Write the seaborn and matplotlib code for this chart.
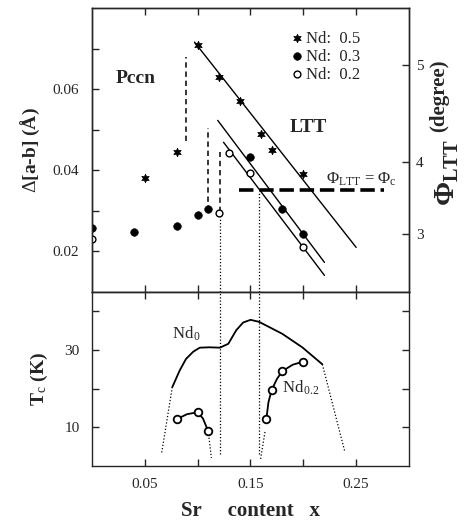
import numpy as np
import pandas as pd
import seaborn as sns
import matplotlib.pyplot as plt

# top panel: splitting |a-b| vs Sr content, three Nd levels
x_nd05 = [0.05, 0.08, 0.10, 0.12, 0.14, 0.16, 0.17, 0.20]
d_nd05 = [0.038, 0.0445, 0.071, 0.063, 0.057, 0.049, 0.045, 0.039]
x_nd03 = [0.0, 0.04, 0.08, 0.10, 0.11, 0.15, 0.18, 0.20]
d_nd03 = [0.0257, 0.0249, 0.0262, 0.0291, 0.0304, 0.0432, 0.0304, 0.0244]
x_nd02 = [0.0, 0.12, 0.13, 0.15, 0.20]
d_nd02 = [0.023, 0.0294, 0.0442, 0.0393, 0.0212]

# straight fits in the LTT phase (end points)
fit_x_05 = [0.097, 0.25]
fit_d_05 = [0.0716, 0.0210]
fit_x_03 = [0.119, 0.22]
fit_d_03 = [0.0523, 0.0173]
fit_x_02 = [0.1245, 0.22]
fit_d_02 = [0.0469, 0.0141]

# Pccn / LTT boundaries
bound_x = [0.0887, 0.110, 0.121]
bound_top = [0.0679, 0.0504, 0.0444]
bound_bot = [0.0472, 0.0299, 0.0296]
phic_x = [0.139, 0.276]
phic_d = 0.0351
guide_x = [0.121, 0.158]
guide_top = [0.0284, 0.0343]
guide_bot_tc = [3.0, 3.0]

# right axis (tilt angle), not linear with the left one
phi_ticks = [3, 4, 5]
phi_pos = [0.0242, 0.0421, 0.066]

# bottom panel: Tc
nd0_x = [0.076, 0.083, 0.089, 0.096, 0.102, 0.111, 0.121, 0.129, 0.1365, 0.143, 0.150, 0.158, 0.180, 0.199, 0.218]
nd0_tc = [20.4, 24.7, 27.7, 29.6, 30.6, 30.7, 30.6, 31.6, 35.1, 37.1, 37.8, 37.3, 34.2, 30.7, 26.3]
nd0_ext_l = ([0.066, 0.076], [3.5, 20.4])
nd0_ext_r = ([0.218, 0.239], [26.3, 4.0])

nd02_xa = [0.08, 0.10, 0.11]
nd02_tca = [12.1, 13.9, 9.0]
nd02_xb = [0.165, 0.17, 0.18, 0.20]
nd02_tcb = [12.1, 19.6, 24.5, 27.0]
curve_xa = [0.08, 0.09, 0.10, 0.105, 0.11]
curve_tca = [12.1, 13.4, 13.9, 12.3, 9.0]
curve_xb = [0.165, 0.167, 0.17, 0.175, 0.18, 0.19, 0.20]
curve_tcb = [12.1, 16.5, 19.6, 22.5, 24.5, 26.2, 27.0]
nd02_ext_a = ([0.11, 0.113], [9.0, 2.1])
nd02_ext_b = ([0.1637, 0.1594], [8.8, 1.5])

sns.set_theme(style="ticks")
plt.rcParams['font.family'] = ['Liberation Serif', 'DejaVu Serif']
plt.rcParams['mathtext.fontset'] = 'custom'
plt.rcParams['mathtext.rm'] = 'Liberation Serif'
plt.rcParams['mathtext.it'] = 'Liberation Serif:italic'
plt.rcParams['mathtext.bf'] = 'Liberation Serif:bold'
plt.rcParams['axes.linewidth'] = 1.0

fig = plt.figure(figsize=(4.70, 5.22), dpi=100)
ax1 = fig.add_axes([0.1957, 0.4406, 0.6745, 0.5441])
ax2 = fig.add_axes([0.1957, 0.1073, 0.6745, 0.3333])

dotted = (0, (1, 1.6))

# --- top panel
df05 = pd.DataFrame({'x': x_nd05, 'd': d_nd05})
df03 = pd.DataFrame({'x': x_nd03, 'd': d_nd03})
df02 = pd.DataFrame({'x': x_nd02, 'd': d_nd02})
sns.scatterplot(data=df05, x='x', y='d', marker=(6, 1, 0), s=38, color='black', edgecolor='black',
                linewidth=0.5, ax=ax1, label='Nd:  0.5', zorder=5)
sns.scatterplot(data=df03, x='x', y='d', marker='o', s=30, color='black', edgecolor='black',
                ax=ax1, label='Nd:  0.3', zorder=5)
sns.scatterplot(data=df02, x='x', y='d', marker='o', s=24, facecolor='white', edgecolor='black',
                linewidth=1.0, ax=ax1, label='Nd:  0.2', zorder=5)

for fx, fd in [(fit_x_05, fit_d_05), (fit_x_03, fit_d_03), (fit_x_02, fit_d_02)]:
    sns.lineplot(x=fx, y=fd, color='black', lw=1.0, ax=ax1, estimator=None, sort=False)

ax1.vlines(bound_x, bound_bot, bound_top, colors='black', linestyles=(0, (3.5, 2.5)), lw=1.1)
ax1.hlines(phic_d, phic_x[0], phic_x[1], colors='black', linestyles=(0, (4, 1.6)), lw=2.6)
ax1.vlines(guide_x, [0.010, 0.010], guide_top, colors='black', linestyles=dotted, lw=0.9)

ax1.text(0.022, 0.0625, 'Pccn', fontsize=14, fontweight='bold', ha='left', va='center')
ax1.text(0.187, 0.0505, 'LTT', fontsize=14, fontweight='bold', ha='left', va='center')
ax1.text(0.221, 0.0378, r'$\Phi_{\rm LTT}$ = $\Phi_{\rm c}$', fontsize=12, ha='left', va='center')

ax1.set_xlim(0, 0.3)
ax1.set_ylim(0.010, 0.080)
ax1.set_xticks([0.05, 0.10, 0.15, 0.20, 0.25])
ax1.set_xticklabels([])
ax1.set_yticks([0.02, 0.03, 0.04, 0.05, 0.06, 0.07])
ax1.set_yticklabels(['0.02', '', '0.04', '', '0.06', ''])
ax1.tick_params(direction='in', length=5, width=1, top=True, labelsize=11, pad=9)
ax1.set_xlabel('')
ax1.set_ylabel(r'$\Delta$[a-b] (Å)', fontsize=14, fontweight='bold')
ax1.yaxis.set_label_coords(-0.158, 0.5)

leg = ax1.legend(loc='upper left', bbox_to_anchor=(0.63, 0.92), frameon=False, fontsize=12,
                 handlelength=0.6, handletextpad=0.25, labelspacing=0.12, borderpad=0,
                 borderaxespad=0)

axr = ax1.twinx()
axr.set_ylim(ax1.get_ylim())
axr.set_yticks(phi_pos)
axr.set_yticklabels([str(p) for p in phi_ticks])
axr.tick_params(direction='in', length=5, width=1, labelsize=11, pad=5)
axr.set_ylabel('')
# right label in two pieces: big Phi_LTT and a raised "(degree)"
axr.text(1.12, 0.42, r'$\mathbf{\Phi_{LTT}}$', fontsize=21, rotation=90, ha='center', va='center',
         rotation_mode='anchor', transform=axr.transAxes)
axr.text(1.096, 0.69, '(degree)', fontsize=15, fontweight='bold', rotation=90, ha='center',
         va='center', rotation_mode='anchor', transform=axr.transAxes)

# --- bottom panel
sns.lineplot(x=nd0_x, y=nd0_tc, color='black', lw=1.3, ax=ax2, estimator=None, sort=False)
for ex in [nd0_ext_l, nd0_ext_r, nd02_ext_a, nd02_ext_b]:
    ax2.plot(ex[0], ex[1], color='black', ls=dotted, lw=0.9)
sns.lineplot(x=curve_xa, y=curve_tca, color='black', lw=1.3, ax=ax2, estimator=None, sort=False)
sns.lineplot(x=curve_xb, y=curve_tcb, color='black', lw=1.3, ax=ax2, estimator=None, sort=False)
sns.scatterplot(x=nd02_xa + nd02_xb, y=nd02_tca + nd02_tcb, marker='o', s=30, facecolor='white',
                edgecolor='black', linewidth=1.3, ax=ax2, zorder=5)
ax2.vlines(guide_x, guide_bot_tc, [45, 45], colors='black', linestyles=dotted, lw=0.9)

ax2.text(0.0755, 34.3, r'Nd$_{\,0}$', fontsize=12, ha='left', va='center')
ax2.text(0.180, 20.3, r'Nd$_{\,0.2}$', fontsize=12, ha='left', va='center')

ax2.set_xlim(0, 0.3)
ax2.set_ylim(0, 45)
ax2.set_xticks([0.05, 0.10, 0.15, 0.20, 0.25])
ax2.set_xticklabels(['0.05', '', '0.15', '', '0.25'])
ax2.set_yticks([10, 20, 30, 40])
ax2.set_yticklabels(['10', '', '30', ''])
ax2.tick_params(direction='in', length=5, width=1, top=True, right=True, labelsize=11, pad=9)
ax2.set_ylabel(r'T$_{\rm c}$ (K)', fontsize=14, fontweight='bold')
ax2.yaxis.set_label_coords(-0.132, 0.5)
ax2.set_xlabel('Sr     content   x', fontsize=15, fontweight='bold')
ax2.xaxis.set_label_coords(0.5, -0.2)

fig.savefig('out.png', dpi=100)
